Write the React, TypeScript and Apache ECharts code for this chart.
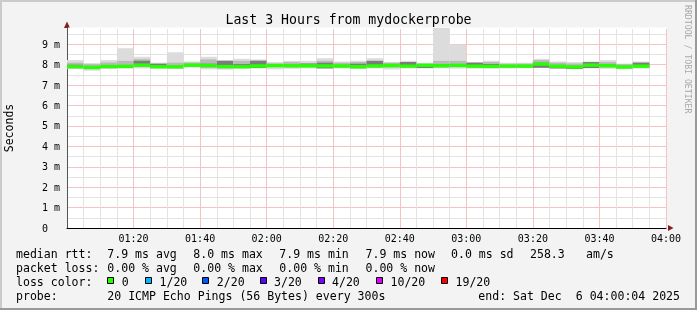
import React, { useEffect, useRef } from "react";
import * as echarts from "echarts";

// ---- data (5-minute bins starting 01:00, minutes offset) ----
const binStart = [0,5,10,15,20,25,30,35,40,45,50,55,60,65,70,75,80,85,90,95,100,105,110,115,120,125,130,135,140,145,150,155,160,165,170];
const medV = [7.90,7.87,7.91,7.92,7.98,7.90,7.90,7.98,7.96,7.91,7.90,7.94,7.96,7.95,7.95,7.94,7.94,7.90,7.94,7.96,7.93,7.97,7.95,7.97,7.93,7.92,7.93,7.93,8.03,7.93,7.89,7.98,7.95,7.89,7.93];
const maxV = [8.23,8.08,8.23,8.81,8.39,8.10,8.61,8.16,8.39,8.23,8.29,8.26,8.13,8.19,8.19,8.32,8.16,8.19,8.32,8.13,8.19,8.10,9.80,8.98,8.13,8.19,8.10,8.10,8.29,8.16,8.13,8.16,8.23,8.06,8.16];
const hiV = [8.10,8.03,8.11,8.19,8.27,8.05,8.10,8.11,8.26,8.19,8.19,8.19,8.06,8.13,8.06,8.19,8.10,8.13,8.19,8.10,8.13,8.05,8.19,8.19,8.10,8.13,8.05,8.05,8.23,8.10,8.06,8.13,8.13,8.03,8.10];
const darkHiV = [8.00,7.87,7.91,7.92,8.19,8.05,7.90,7.98,8.05,8.19,8.03,8.19,7.96,8.00,8.06,8.10,7.94,8.05,8.19,7.96,8.13,7.97,8.03,8.03,8.10,8.03,7.93,7.93,8.10,7.93,7.89,8.13,8.03,7.89,8.10];
const darkLoV = [7.90,7.87,7.84,7.84,7.98,7.86,7.90,7.98,7.96,7.91,7.90,7.84,7.96,7.95,7.95,7.82,7.94,7.90,7.94,7.96,7.93,7.84,7.95,7.97,7.93,7.92,7.93,7.93,7.85,7.82,7.79,7.84,7.95,7.89,7.93];
const loV = [7.83,7.78,7.83,7.84,7.88,7.84,7.82,7.90,7.84,7.82,7.84,7.86,7.88,7.87,7.87,7.84,7.86,7.83,7.86,7.86,7.85,7.86,7.87,7.88,7.85,7.84,7.85,7.86,7.90,7.84,7.81,7.86,7.86,7.82,7.85];
const minV = [7.80,7.71,7.80,7.81,7.82,7.81,7.80,7.86,7.77,7.76,7.81,7.81,7.77,7.80,7.82,7.81,7.81,7.79,7.82,7.77,7.82,7.82,7.82,7.81,7.81,7.80,7.82,7.83,7.84,7.80,7.78,7.82,7.80,7.77,7.81];

const lossLabels = ["0","1/20","2/20","3/20","4/20","10/20","19/20"];
const lossColors = ["#26ff00","#00b8ff","#0059ff","#5e00ff","#7e00ff","#dd00ff","#ff0000"];
const rttStats = ["7.9 ms avg","8.0 ms max","7.9 ms min","7.9 ms now","0.0 ms sd","258.3","am/s"];
const lossStats = ["0.00 % avg","0.00 % max","0.00 % min","0.00 % now"];

const MONO = "DejaVu Sans Mono";
const W = 697, H = 310;
const GL = 67, GT = 28, GW = 599, GH = 200;
const MAJOR = "#f5c3c3";
const MINOR = "#e3e3e3";

function pad2(n: number) { return (n < 10 ? "0" : "") + n; }

export default function App() {
  const ref = useRef<HTMLDivElement>(null);
  useEffect(() => {
    document.body.style.margin = "0";
    if (!ref.current) return;
    const chart = echarts.init(ref.current, null, { renderer: "svg" });

    const data = binStart.map((s, i) => [s, minV[i], loV[i], darkLoV[i], medV[i], darkHiV[i], hiV[i], maxV[i]]);

    const FS = 11.55;
    const txt = (s: string, x: number, y: number, extra: any = {}) => ({
      type: "text", x, y, silent: true,
      style: { text: s, fill: "#000", font: `${FS}px '${MONO}'`, align: "left", verticalAlign: "middle", ...extra },
    });
    const rows = [254.3, 268, 281.5, 295.8];
    const statX = [107.3, 193.3, 279.3, 365.5, 451, 530, 586];
    const graphics: any[] = [
      { type: "rect", shape: { x: GL + 1, y: GT - 0.5, width: GW, height: 1.5 }, style: { fill: "#ffffff" }, silent: true, z: 1 },
      { type: "rect", shape: { x: 0, y: 0, width: W, height: 2 }, style: { fill: "#cbcbcb" }, silent: true },
      { type: "rect", shape: { x: 0, y: 0, width: 2, height: H }, style: { fill: "#cbcbcb" }, silent: true },
      { type: "rect", shape: { x: 0, y: H - 2, width: W, height: 2 }, style: { fill: "#999999" }, silent: true },
      { type: "rect", shape: { x: W - 2, y: 0, width: 2, height: H }, style: { fill: "#999999" }, silent: true },
      { type: "polygon", shape: { points: [[64, GT], [70, GT], [67, GT - 6.5]] }, style: { fill: "#7f1f1f" }, silent: true },
      { type: "polygon", shape: { points: [[GL + GW + 2, GT + GH - 3], [GL + GW + 2, GT + GH + 3], [GL + GW + 7.5, GT + GH]] }, style: { fill: "#7f1f1f" }, silent: true },
      { type: "text", x: 687.5, y: 5, rotation: -Math.PI / 2, silent: true,
        style: { text: "RRDTOOL / TOBI OETIKER", fill: "#a8a8a8", font: `8.2px '${MONO}'`, align: "left", verticalAlign: "middle" } },
      txt("median rtt:", 16, rows[0]),
      txt("packet loss:", 16, rows[1]),
      txt("loss color:", 16, rows[2]),
      txt("probe:", 16, rows[3]),
      txt("20 ICMP Echo Pings (56 Bytes) every 300s", 107.3, rows[3]),
      txt("end: Sat Dec", 478.3, rows[3]),
      txt("6 04:00:04 2025", 478.3 + 14 * 6.96, rows[3]),
    ];
    rttStats.forEach((s, i) => graphics.push(txt(s, statX[i], rows[0])));
    lossStats.forEach((s, i) => graphics.push(txt(s, statX[i], rows[1])));
    const boxX = [107.3, 145, 202.3, 259.5, 317.5, 376, 441];
    lossLabels.forEach((s, i) => {
      graphics.push({ type: "rect", shape: { x: Math.round(boxX[i]) + 0.5, y: 277.5, width: 6, height: 6 },
        style: { fill: lossColors[i], stroke: "#000", lineWidth: 1 }, silent: true });
      graphics.push(txt(s, boxX[i] + 14.5, rows[2]));
    });

    chart.setOption({
      animation: false,
      backgroundColor: "#f3f3f3",
      title: {
        text: "Last 3 Hours from mydockerprobe",
        left: "center", top: 13, padding: 0,
        textStyle: { fontFamily: MONO, fontSize: 13.2, fontWeight: "normal", color: "#000" },
      },
      grid: {
        left: GL, top: GT, width: GW, height: GH, show: true, backgroundColor: "#ffffff", borderWidth: 0,
        containLabel: false, outerBoundsMode: "none",
      },
      xAxis: {
        type: "value", min: 0, max: 180, interval: 20,
        axisLine: { show: true, lineStyle: { color: "#000", width: 1 } },
        axisTick: { show: false },
        minorTick: { show: false, splitNumber: 4 },
        splitLine: { show: true, lineStyle: { color: MAJOR, type: "solid", width: 1 } },
        minorSplitLine: { show: true, lineStyle: { color: MINOR, type: "solid", width: 1 } },
        axisLabel: {
          showMinLabel: false, margin: 5, color: "#000", fontFamily: MONO, fontSize: 10,
          formatter: (v: number) => { const t = 60 + v; return pad2(Math.floor(t / 60)) + ":" + pad2(t % 60); },
        },
      },
      yAxis: {
        type: "value", min: 0, max: 9.8, interval: 1,
        name: "Seconds", nameLocation: "middle", nameRotate: 90, nameGap: 52,
        nameTextStyle: { fontFamily: MONO, fontSize: 11.5, color: "#000" },
        axisLine: { show: true, lineStyle: { color: "#555", width: 1 } },
        axisTick: { show: false },
        minorTick: { show: false, splitNumber: 2 },
        splitLine: { show: true, lineStyle: { color: MAJOR, type: "solid", width: 1 } },
        minorSplitLine: { show: true, lineStyle: { color: MINOR, type: "solid", width: 1 } },
        axisLabel: {
          showMaxLabel: false, margin: 7, color: "#000", fontFamily: MONO, fontSize: 10,
          formatter: (v: number) => (v === 0 ? "{z|0}" : v + " m"),
          rich: { z: { fontFamily: MONO, fontSize: 10, color: "#000", padding: [0, 12, 0, 0] } },
        },
      },
      series: [{
        type: "custom",
        clip: true,
        data,
        encode: { x: 0, y: 4 },
        renderItem: (params: any, api: any) => {
          const s = api.value(0);
          const x0 = api.coord([s, 0])[0];
          const x1 = api.coord([s + 5, 0])[0];
          const py = (v: number) => api.coord([s, v])[1];
          const band = (lo: number, hi: number, fill: string) => {
            const yt = py(hi), yb = py(lo);
            return { type: "rect", shape: { x: x0, y: yt, width: x1 - x0, height: Math.max(0, yb - yt) }, style: { fill } };
          };
          const med = py(api.value(4));
          return {
            type: "group",
            children: [
              band(api.value(1), api.value(7), "#dcdcdc"),
              band(api.value(2), api.value(6), "#b9b9b9"),
              band(api.value(3), api.value(5), "#7c7c7c"),
              { type: "rect", shape: { x: x0, y: med - 1.7, width: x1 - x0, height: 3.4 }, style: { fill: lossColors[0] } },
            ],
          };
        },
      }],
      graphic: graphics,
    });
    return () => chart.dispose();
  }, []);
  return <div ref={ref} style={{ width: W, height: H, filter: "grayscale(0.001)" }} />;
}
